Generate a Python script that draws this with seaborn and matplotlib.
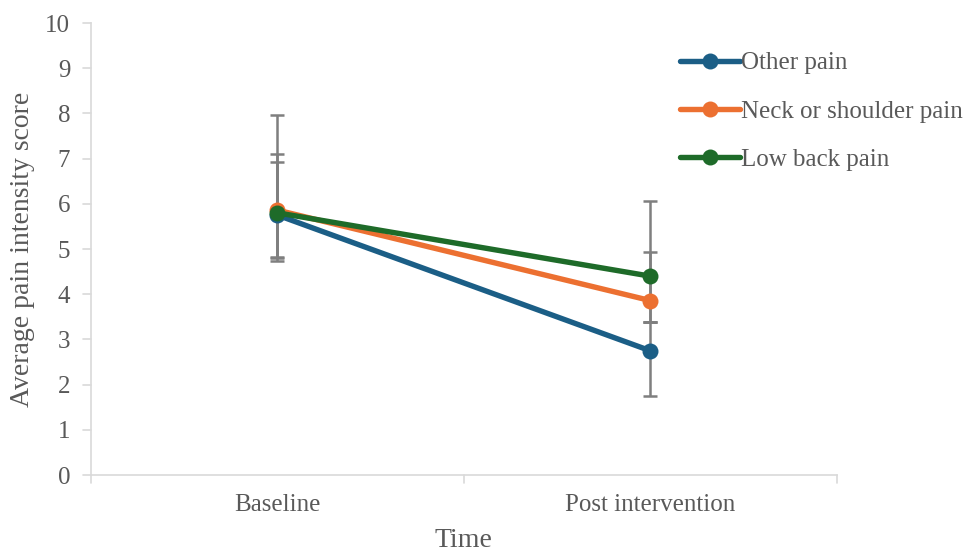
import matplotlib
matplotlib.use("Agg")
import matplotlib.pyplot as plt
import seaborn as sns
import pandas as pd
import numpy as np

# ---- data ----
times = ["Baseline", "Post intervention"]
series = ["Other pain", "Neck or shoulder pain", "Low back pain"]
other_mean = [5.75, 2.75]
neck_mean = [5.86, 3.86]
low_mean = [5.80, 4.40]
# error bar ends (lower, upper)
other_low = [4.74, 1.75]
other_high = [6.92, 3.39]
neck_low = [4.83, 3.39]
neck_high = [7.10, 4.93]
low_low = [4.80, 3.39]
low_high = [7.96, 6.06]
yticks = list(range(0, 11))

colors = ["#1B5E86", "#EC7031", "#1E6B29"]
text_color = "#595959"
axis_color = "#D9D9D9"

sns.set_theme(style="white")
plt.rcParams["font.family"] = ["Liberation Serif", "DejaVu Serif"]

means = [other_mean, neck_mean, low_mean]
lows = [other_low, neck_low, low_low]
highs = [other_high, neck_high, low_high]

df = pd.DataFrame({
    "Time": times * 3,
    "Score": other_mean + neck_mean + low_mean,
    "Series": [s for s in series for _ in times],
})

fig = plt.figure(figsize=(9.66, 5.53), dpi=100)
ax = fig.add_axes([91/966, 1 - 475/553, (836.5 - 91)/966, (475 - 23)/553])

# error bars (behind lines)
for m, lo, hi in zip(means, lows, highs):
    m = np.array(m); lo = np.array(lo); hi = np.array(hi)
    ax.errorbar(np.arange(len(times)), m, yerr=[m - lo, hi - m], fmt="none",
                ecolor="#7F7F7F", elinewidth=1.8, capsize=4.7, capthick=1.8, zorder=1)

sns.lineplot(data=df, x="Time", y="Score", hue="Series", hue_order=series,
             palette=colors, marker="o", markersize=11.5, markeredgewidth=0,
             linewidth=3.9, sort=False, ax=ax, zorder=3, legend=False)

ax.set_xlim(-0.5, 1.5)
ax.set_ylim(0, 10)
ax.set_yticks(yticks)
ax.set_xticks([0, 1])
ax.set_xticklabels(times)
ax.tick_params(axis="both", labelsize=18, colors=text_color, length=0)
ax.tick_params(axis="x", pad=14)
ax.tick_params(axis="y", pad=15)
ax.set_xlabel("Time", fontsize=20, color=text_color, labelpad=8)
ax.set_ylabel("Average pain intensity score", fontsize=20, color=text_color, labelpad=7)

for side in ["top", "right"]:
    ax.spines[side].set_visible(False)
for side in ["left", "bottom"]:
    ax.spines[side].set_color(axis_color)
    ax.spines[side].set_linewidth(1.2)

# manual outside ticks in light gray
for y in yticks:
    ax.plot([-0.5 - 8/373, -0.5], [y, y], color=axis_color, lw=1.2, clip_on=False, zorder=0)
for x in [-0.5, 0.5, 1.5]:
    ax.plot([x, x], [0, -8/45.2], color=axis_color, lw=1.2, clip_on=False, zorder=0)

from matplotlib.lines import Line2D
handles = [Line2D([], [], color=c, lw=3.9, marker="o", markersize=11.5, markeredgewidth=0)
           for c in colors]
leg = fig.legend(handles, series, loc="upper left", bbox_to_anchor=(670/966, 1 - 42/553),
                 frameon=False, fontsize=18, handlelength=2.4, handletextpad=0.05,
                 labelspacing=1.03, borderaxespad=0, borderpad=0.4)
for t in leg.get_texts():
    t.set_color(text_color)

fig.savefig("out.png", dpi=100)
